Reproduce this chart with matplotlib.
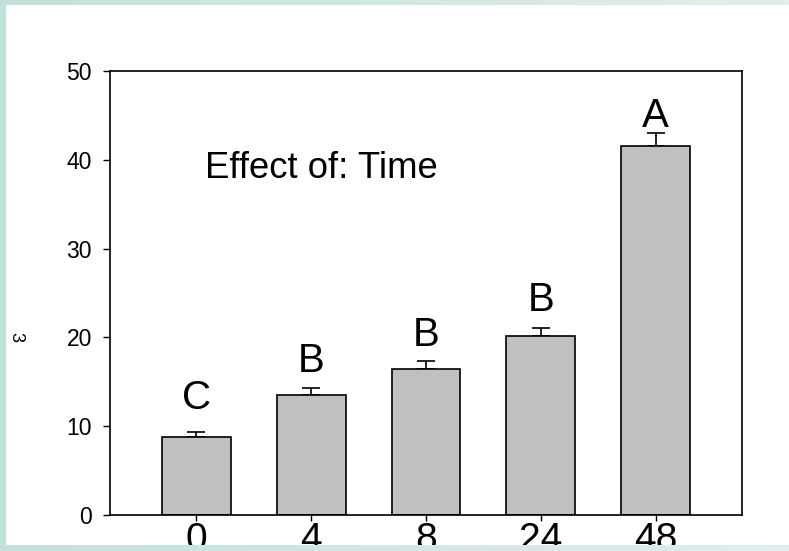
import numpy as np
import matplotlib
matplotlib.use("Agg")
import matplotlib.pyplot as plt
from matplotlib.colors import LinearSegmentedColormap

plt.rcParams['font.family'] = ['Liberation Sans', 'DejaVu Sans']

categories = ["0", "4", "8", "24", "48"]
means = [8.8, 13.5, 16.4, 20.2, 41.5]
errors = [0.6, 0.8, 0.9, 0.9, 1.5]
letters = ["C", "B", "B", "B", "A"]
letter_y = [11.9, 16.1, 19.0, 23.0, 43.7]
yticks = [0, 10, 20, 30, 40, 50]
annotation = "Effect of: Time"

W, H = 789, 551
fig = plt.figure(figsize=(W / 100, H / 100), dpi=100)

# background gradient frame
cmap = LinearSegmentedColormap.from_list("frame", ["#c2e1da", "#e2eeee"])
grad = np.linspace(0, 1, 256).reshape(1, -1)
bg = fig.add_axes([0, 0, 1, 1], zorder=-5)
bg.imshow(grad, aspect='auto', cmap=cmap, extent=[0, 1, 0, 1])
bg.axis('off')
fig.patches.append(plt.Rectangle((6 / W, 6 / H), 1 - 6 / W, 1 - 11 / H,
                                 transform=fig.transFigure, facecolor='white',
                                 edgecolor='none', zorder=-4))

ax = fig.add_axes([110 / W, (H - 515) / H, 632 / W, 444 / H])
x = np.arange(len(categories))
ax.bar(x, means, width=0.6, color='#c0c0c0', edgecolor='black', linewidth=1.2, zorder=2)
ax.errorbar(x, means, yerr=[np.zeros(len(errors)), errors], fmt='none',
            ecolor='black', elinewidth=1.2, capsize=6.5, capthick=1.2, zorder=1)

for xi, lab, ly in zip(x, letters, letter_y):
    ax.text(xi, ly, lab, ha='center', va='baseline', fontsize=29)

ax.text(0.08, 38.0, annotation, ha='left', va='baseline', fontsize=26.3)

ax.set_xlim(-0.75, 4.75)
ax.set_ylim(0, 50)
ax.set_yticks(yticks)
ax.set_xticks(x)
ax.set_xticklabels(categories)
ax.tick_params(axis='y', direction='out', length=5, width=1, pad=8, labelsize=16.5)
ax.tick_params(axis='x', direction='out', length=4.3, width=1, pad=1, labelsize=28)
for s in ax.spines.values():
    s.set_linewidth(1.2)

fig.text(16 / W, 1 - 337 / H, "3", rotation=270, ha='center', va='center', fontsize=13)

# bottom frame strip drawn over labels
bot = fig.add_axes([0, 0, 1, 6 / H], zorder=10)
bot.imshow(grad, aspect='auto', cmap=cmap, extent=[0, 1, 0, 1])
bot.axis('off')

fig.savefig("out.png", dpi=100)
